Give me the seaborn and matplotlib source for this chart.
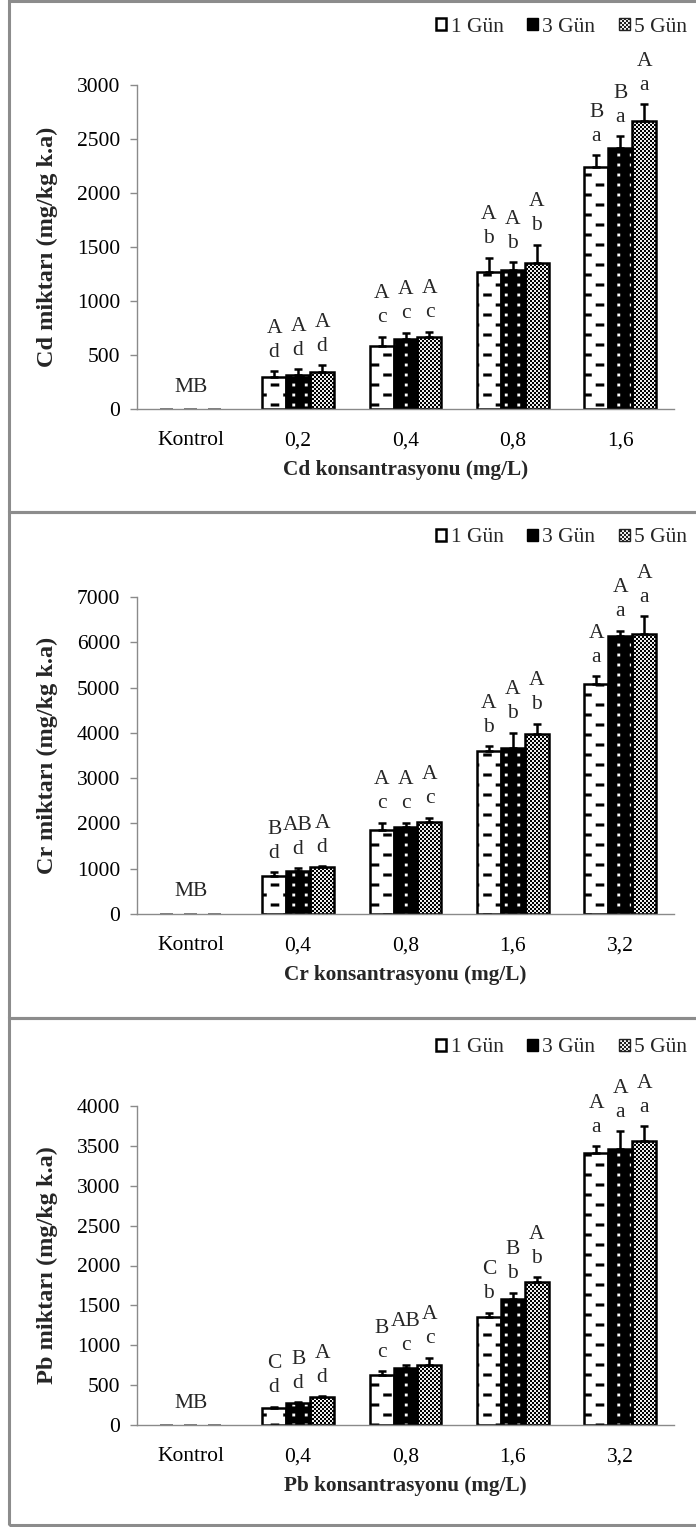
import numpy as np
import pandas as pd
import matplotlib
matplotlib.use("Agg")
import matplotlib.pyplot as plt
import matplotlib.hatch as mhatch
from matplotlib.path import Path
from matplotlib.patches import Patch, Rectangle
import seaborn as sns

# ---------------------------------------------------------------- data
days = ["1 Gün", "3 Gün", "5 Gün"]

cd_conc = ["Kontrol", "0,2", "0,4", "0,8", "1,6"]
cd_day1 = [0, 300, 585, 1265, 2245]
cd_day3 = [0, 315, 645, 1285, 2415]
cd_day5 = [0, 345, 665, 1355, 2665]
cd_err1 = [0, 50, 85, 135, 105]
cd_err3 = [0, 55, 62, 75, 110]
cd_err5 = [0, 62, 50, 165, 155]
cd_upper = [["A", "A", "A"], ["A", "A", "A"], ["A", "A", "A"], ["B", "B", "A"]]
cd_lower = [["d", "d", "d"], ["c", "c", "c"], ["b", "b", "b"], ["a", "a", "a"]]

cr_conc = ["Kontrol", "0,4", "0,8", "1,6", "3,2"]
cr_day1 = [0, 840, 1850, 3600, 5085]
cr_day3 = [0, 940, 1920, 3670, 6140]
cr_day5 = [0, 1030, 2040, 3965, 6180]
cr_err1 = [0, 80, 165, 100, 170]
cr_err3 = [0, 75, 100, 330, 110]
cr_err5 = [0, 25, 80, 235, 390]
cr_upper = [["B", "AB", "A"], ["A", "A", "A"], ["A", "A", "A"], ["A", "A", "A"]]
cr_lower = [["d", "d", "d"], ["c", "c", "c"], ["b", "b", "b"], ["a", "a", "a"]]

pb_conc = ["Kontrol", "0,4", "0,8", "1,6", "3,2"]
pb_day1 = [0, 215, 625, 1355, 3410]
pb_day3 = [0, 270, 715, 1585, 3465]
pb_day5 = [0, 350, 755, 1795, 3555]
pb_err1 = [0, 12, 50, 50, 85]
pb_err3 = [0, 15, 40, 75, 220]
pb_err5 = [0, 10, 90, 55, 190]
pb_upper = [["C", "B", "A"], ["B", "AB", "A"], ["C", "B", "A"], ["A", "A", "A"]]
pb_lower = [["d", "d", "d"], ["c", "c", "c"], ["b", "b", "b"], ["a", "a", "a"]]

control_note = "MB"


# ------------------------------------------------------ fill patterns
class _RectTile(mhatch.HatchPatternBase):
    """Hatch made of small filled rectangles inside the unit tile."""
    key = ""

    def __init__(self, hatch, density):
        self.rects = self.layout() if self.key in (hatch or "") else []
        self.num_vertices = 5 * len(self.rects)

    def layout(self):
        return []

    def set_vertices_and_codes(self, vertices, codes):
        pts = []
        for cx, cy, w, h in self.rects:
            pts += [(cx - w / 2, cy - h / 2), (cx + w / 2, cy - h / 2),
                    (cx + w / 2, cy + h / 2), (cx - w / 2, cy + h / 2),
                    (cx - w / 2, cy - h / 2)]
        vertices[:] = pts
        codes[:] = [Path.MOVETO, Path.LINETO, Path.LINETO, Path.LINETO,
                    Path.CLOSEPOLY] * len(self.rects)


class DashRows(_RectTile):
    key = "-"

    def layout(self):
        out = []
        for i in range(10):
            y = (i + 0.5) / 10
            if i % 2 == 0:
                xs = [(k + 0.5) / 4 for k in range(4)]
            else:
                xs = [k / 4 for k in range(5)]
            out += [(x, y, 0.085, 0.03) for x in xs]
        return out


class DotGrid(_RectTile):
    key = "."

    def layout(self):
        return [((k + 0.5) / 8, (i + 0.5) / 10, 0.028, 0.028)
                for i in range(10) for k in range(8)]


class Checker(_RectTile):
    key = "x"

    def layout(self):
        n = 50
        s = 1 / n
        return [((2 * k + 0.5 + (i % 2)) * s, (i + 0.5) * s, s, s)
                for i in range(n) for k in range(n // 2)]


mhatch._hatch_types = [DashRows, DotGrid, Checker]

# -------------------------------------------------------------- style
sns.set_theme(style="white")
plt.rcParams["font.family"] = ["Liberation Serif", "DejaVu Serif"]
plt.rcParams["hatch.linewidth"] = 0.05
FS = 15.5
AXIS_GREY = "#8a8a8a"

bar_style = {
    "1 Gün": dict(face="white", hatch="-", hcolor="black"),
    "3 Gün": dict(face="black", hatch=".", hcolor="white"),
    "5 Gün": dict(face="white", hatch="x", hcolor="black"),
}

W, H = 696, 1527
fig = plt.figure(figsize=(W / 100, H / 100), dpi=100)
fig.patch.set_facecolor("white")

panels = [
    dict(metal="Cd", conc=cd_conc, vals=[cd_day1, cd_day3, cd_day5],
         errs=[cd_err1, cd_err3, cd_err5], up=cd_upper, low=cd_lower,
         ymax=3000, step=500, top=85, bottom=409, frame=(1, 512), legend_y=27),
    dict(metal="Cr", conc=cr_conc, vals=[cr_day1, cr_day3, cr_day5],
         errs=[cr_err1, cr_err3, cr_err5], up=cr_upper, low=cr_lower,
         ymax=7000, step=1000, top=597, bottom=914, frame=(512, 1018), legend_y=538),
    dict(metal="Pb", conc=pb_conc, vals=[pb_day1, pb_day3, pb_day5],
         errs=[pb_err1, pb_err3, pb_err5], up=pb_upper, low=pb_lower,
         ymax=4000, step=500, top=1106, bottom=1425, frame=(1018, 1525), legend_y=1048),
]

AX_L, AX_R = 137, 674

for pnl in panels:
    # panel frame
    y0, y1 = pnl["frame"]
    fig.add_artist(Rectangle((9 / W, 1 - y1 / H), 720 / W, (y1 - y0) / H,
                             transform=fig.transFigure, fill=False,
                             edgecolor="#8c8c8c", linewidth=2.2, zorder=0))

    ax = fig.add_axes([AX_L / W, 1 - pnl["bottom"] / H,
                       (AX_R - AX_L) / W, (pnl["bottom"] - pnl["top"]) / H])
    ax.set_facecolor("none")

    conc = pnl["conc"]
    df = pd.DataFrame({
        "Konsantrasyon": conc * 3,
        "Gün": np.repeat(days, len(conc)),
        "Miktar": pnl["vals"][0] + pnl["vals"][1] + pnl["vals"][2],
        "Hata": pnl["errs"][0] + pnl["errs"][1] + pnl["errs"][2],
    })
    sns.barplot(data=df, x="Konsantrasyon", y="Miktar", hue="Gün",
                order=conc, hue_order=days, errorbar=None, width=0.67,
                palette=["white", "black", "white"], saturation=1,
                legend=False, ax=ax)

    bars = list(ax.patches)
    n = len(conc)
    xs, tops, errs = [], [], []
    for h, day in enumerate(days):
        st = bar_style[day]
        for i in range(n):
            p = bars[h * n + i]
            p.set_facecolor(st["face"])
            p.set_edgecolor(st["hcolor"])
            p.set_hatch(st["hatch"])
            p.set_linewidth(0)
            if p.get_height() > 0:
                ax.add_patch(Rectangle((p.get_x(), p.get_y()), p.get_width(),
                                       p.get_height(), fill=False,
                                       edgecolor="black", linewidth=1.8,
                                       zorder=p.get_zorder() + 0.1))
                xc = p.get_x() + p.get_width() / 2
                top = p.get_height()
                err = pnl["errs"][h][i]
                xs.append(xc)
                tops.append(top)
                errs.append(err)
                ax.annotate(pnl["low"][i - 1][h], (xc, top + err),
                            xytext=(0, 19), textcoords="offset pixels",
                            ha="center", va="center", fontsize=FS)
                ax.annotate(pnl["up"][i - 1][h], (xc, top + err),
                            xytext=(0, 43), textcoords="offset pixels",
                            ha="center", va="center", fontsize=FS)
            else:
                # empty control bar: short grey stub on the baseline
                w = p.get_width()
                ax.add_patch(Rectangle((p.get_x() + 0.22 * w, 0), 0.56 * w, 0,
                                       fill=False, edgecolor="#777777",
                                       linewidth=1.3, zorder=3))

    ax.errorbar(xs, tops, yerr=[np.zeros(len(errs)), errs], fmt="none",
                ecolor="black", elinewidth=1.8, capsize=3.2, capthick=1.8,
                zorder=4)

    ax.annotate(control_note, (0, 0), xytext=(0, 22),
                textcoords="offset pixels", ha="center", va="center",
                fontsize=FS)

    # axes
    ax.set_xlim(-0.5, n - 0.5)
    ax.set_ylim(0, pnl["ymax"])
    ax.set_yticks(np.arange(0, pnl["ymax"] + 1, pnl["step"]))
    ax.set_xticks(range(n))
    ax.set_xticklabels(conc)
    ax.set_xticks(np.arange(-0.5, n, 1.0), minor=True)
    ax.tick_params(axis="x", which="major", length=0, pad=16, labelsize=FS,
                   labelcolor="black")
    ax.tick_params(axis="x", which="minor", length=6, width=1,
                   color=AXIS_GREY, direction="out")
    ax.tick_params(axis="y", length=5, width=1, color=AXIS_GREY,
                   direction="out", pad=7, labelsize=FS, labelcolor="black",
                   left=True)
    for side in ("top", "right"):
        ax.spines[side].set_visible(False)
    for side in ("left", "bottom"):
        ax.spines[side].set_color(AXIS_GREY)
        ax.spines[side].set_linewidth(1)

    ax_h = pnl["bottom"] - pnl["top"]
    ax.set_xlabel(f"{pnl['metal']} konsantrasyonu (mg/L)", fontsize=15.3,
                  fontweight="bold", va="center")
    ax.xaxis.set_label_coords(0.5, -61 / ax_h)
    ax.set_ylabel(f"{pnl['metal']} miktarı (mg/kg k.a)", fontsize=17.5,
                  fontweight="bold", va="center")
    ax.yaxis.set_label_coords((47 - AX_L) / (AX_R - AX_L), 0.5)
    ax.grid(False)

    handles = [
        Patch(facecolor="white", edgecolor="black", linewidth=1.8),
        Patch(facecolor="black", edgecolor="black", linewidth=1),
        Patch(facecolor="white", edgecolor="#222222", hatch="x", linewidth=1),
    ]
    ax.legend(handles, days, ncol=3, loc="center right",
              bbox_to_anchor=(687 / W, 1 - pnl["legend_y"] / H),
              bbox_transform=fig.transFigure, frameon=False,
              handlelength=0.5, handleheight=0.5, handletextpad=0.2,
              columnspacing=1.1, borderpad=0, borderaxespad=0, fontsize=FS)

fig.savefig("out.png", dpi=100, facecolor="white")
